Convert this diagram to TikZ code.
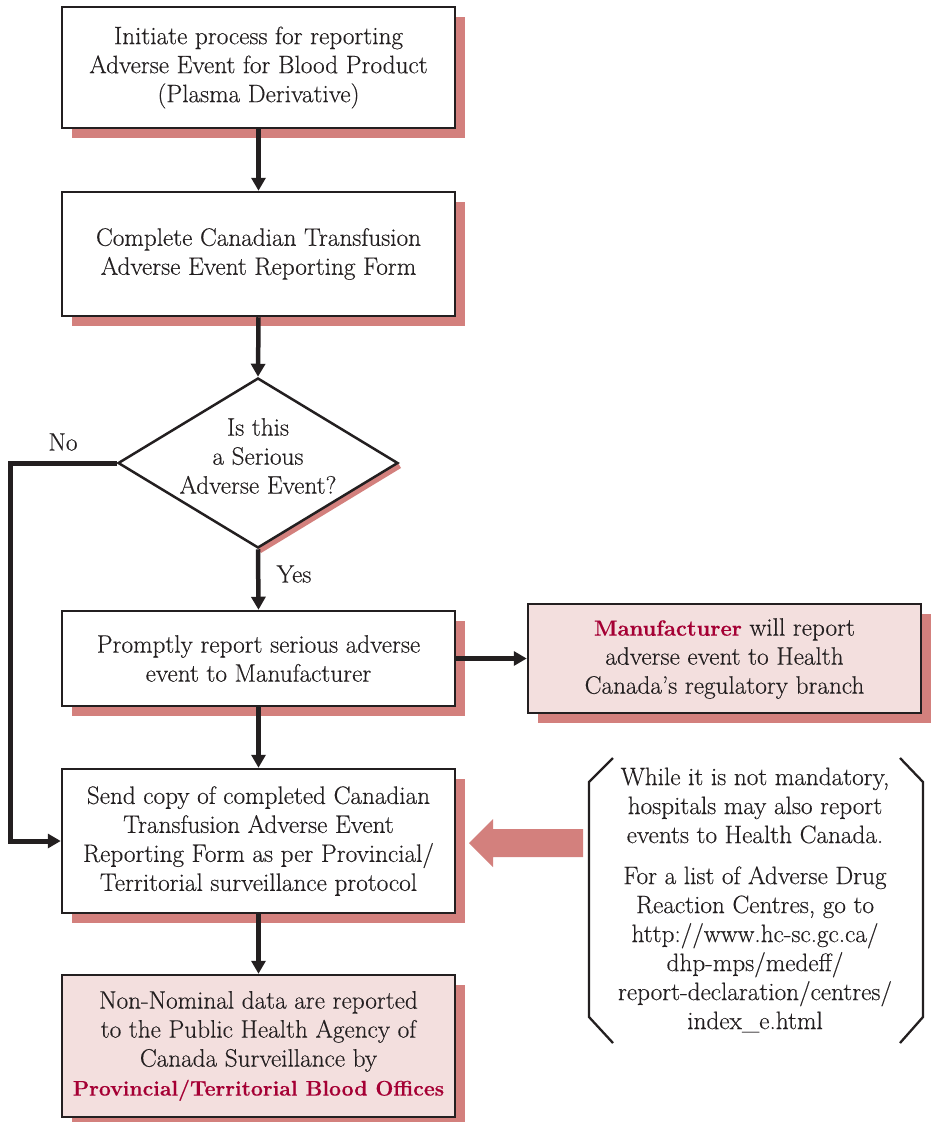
\documentclass[tikz,border=0pt]{standalone}
\usepackage{fontspec}
\setmainfont{Latin Modern Roman}[FakeBold=0.35]
\usetikzlibrary{arrows.meta,shapes.geometric,shadows}
\definecolor{ink}{HTML}{231F20}
\definecolor{shadowcol}{RGB}{211,128,125}
\definecolor{pinkfill}{RGB}{243,223,222}
\definecolor{accent}{RGB}{165,0,52}
\newcommand\txtsize{\fontsize{25.2}{29}\selectfont}
\newcommand\hl[1]{\textcolor{accent}{\bfseries #1}}
\begin{document}
\begin{tikzpicture}[x=1pt,y=-1pt,
  box/.style={draw=ink, line width=2.5pt, fill=white, minimum width=393pt, align=center,
    inner sep=0pt, text=ink, font=\txtsize,
    drop shadow={shadow xshift=10pt, shadow yshift=-10pt, fill=shadowcol, opacity=1}},
  pinkbox/.style={box, fill=pinkfill},
  dia/.style={diamond, draw=ink, line width=2.5pt, fill=white, inner sep=0pt,
    minimum width=280pt, minimum height=170pt},
  lbl/.style={text=ink, font=\txtsize, align=center, inner sep=0pt},
  conn/.style={draw=ink, line width=4.5pt, -{Triangle[length=13pt,width=14pt]}},
  brk/.style={draw=ink, line width=2.3pt}
]
\useasboundingbox (0,0) rectangle (931,1122);

\node[box, minimum height=121pt] (b1) at (258.5,67.5)
  {Initiate process for reporting\\Adverse Event for Blood Product\\(Plasma Derivative)};
\node[box, minimum height=124pt] (b2) at (258.5,254)
  {Complete Canadian Transfusion\\Adverse Event Reporting Form};

\coordinate (dc) at (258,463);
\fill[shadowcol] (398,463) -- (258,548) -- (261,553) -- (401,468) -- cycle;
\node[dia] (d) at (dc) {};
\node[lbl] (dt) at (258,456) {Is this\\a Serious\\Adverse Event?};

\node[box, minimum height=95pt] (b3) at (258.5,658.5)
  {Promptly report serious adverse\\event to Manufacturer};
\node[pinkbox, minimum height=109pt] (m) at (724.5,658.5)
  {{\fontsize{22}{29}\selectfont\hl{Manufacturer}} will report\\adverse event to Health\\Canada’s regulatory branch};
\node[box, minimum height=144pt] (b4) at (258.5,841)
  {Send copy of completed Canadian\\Transfusion Adverse Event\\Reporting Form as per Provincial/\\Territorial surveillance protocol};
\node[pinkbox, minimum height=142pt] (b5) at (258.5,1046)
  {Non-Nominal data are reported\\to the Public Health Agency of\\Canada Surveillance by\\{\fontsize{21.2}{29}\selectfont\hl{Provincial/Territorial Blood Offices}}};

\node[lbl] (no) at (63,442) {No};
\node[lbl] (yes) at (294,574) {Yes};

\draw[conn] (b1.south) -- (b2.north);
\draw[conn] (b2.south) -- (d.north);
\draw[conn] (d.south) -- (b3.north);
\draw[conn] (b3.east) -- (m.west);
\draw[conn] (b3.south) -- (b4.north);
\draw[conn] (b4.south) -- (b5.north);
\coordinate (nocorner) at (10,463);
\draw[conn, line width=5pt] (d.west) -- (nocorner) |- (b4.west);

\node[lbl] (note) at (755,900)
  {While it is not mandatory,\\hospitals may also report\\events to Health Canada.\\[12pt]
   For a list of Adverse Drug\\Reaction Centres, go to\\http://www.hc-sc.gc.ca/\\dhp-mps/medeff/\\report-declaration/centres/\\index\_e.html};
\draw[brk] (613,758) -- (589,782) -- (589,1017) -- (613,1043);
\draw[brk] (900,758) -- (923,782) -- (923,1017) -- (900,1043);

\fill[shadowcol] (583,829) -- (493,829) -- (493,819) -- (469,843) -- (493,867) -- (493,857) -- (583,857) -- cycle;
\end{tikzpicture}
\end{document}
